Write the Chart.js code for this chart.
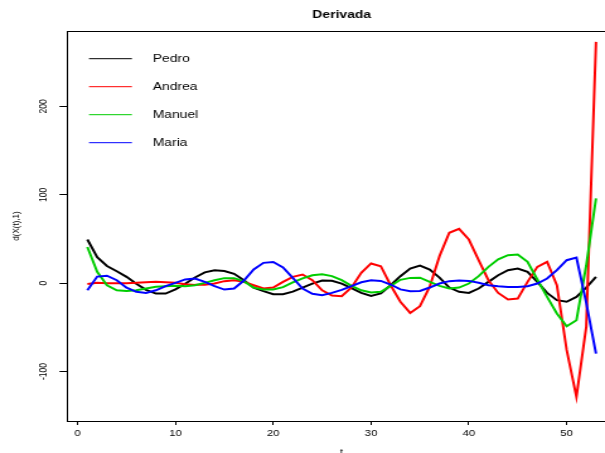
<!DOCTYPE html>
<html><head><meta charset="utf-8">
<script src="https://cdn.jsdelivr.net/npm/chart.js@4/dist/chart.umd.min.js"></script>
<style>
html,body{margin:0;padding:0;background:#fff;overflow:hidden}
#wrap{width:605px;height:453px;overflow:hidden;position:relative;background:#fff}
#c{position:absolute;left:0;top:0;width:489px;height:453px;transform:scaleX(1.2604);transform-origin:0 0}
</style></head><body>
<div id="wrap"><canvas id="c" width="489" height="453"></canvas></div>
<script>
// ---- data ----
const T = [1,2,3,4,5,6,7,8,9,10,11,12,13,14,15,16,17,18,19,20,21,22,23,24,25,26,27,28,29,30,
           31,32,33,34,35,36,37,38,39,40,41,42,43,44,45,46,47,48,49,50,51,52,53];
const PEDRO = [49.4,29.5,19.5,13.5,7.2,-0.7,-7.5,-11.7,-11.7,-7,
               -0.7,6.5,12.3,14.5,13.8,10.6,3.4,-5,-9,-12.5,
               -12.5,-9.5,-5,-0.5,3,2.8,-0.5,-5.5,-11,-14.5,
               -11.5,-2.3,7.9,16.6,20,15.5,6.4,-4.9,-9.8,-11,
               -6,1.5,9,14.7,16.6,12.8,1.5,-11,-19.2,-21,
               -15.5,-4.9,7.2];
const ANDREA = [-1,0.4,0,0,0,0.4,1.1,1.5,1.1,0.4,
                -1.1,-1.9,-1.9,-0.4,2.3,3.4,1.5,-2.3,-6,-4.9,
                1.5,7.2,9.8,3.4,-8,-14,-14.7,-4.9,11.7,22.3,
                19.2,-2.3,-21,-33.6,-26,-4,30.6,57,61.5,49.4,
                26,3.4,-11,-18.5,-17.4,1.5,18.5,24.2,-2.3,-75.5,
                -128.7,-49.4,273];
const MANUEL = [41,12.8,-2.3,-8,-8.7,-8,-6,-4,-3.4,-3,
                -3.4,-2.3,0.4,3.4,5.7,5.7,2,-5,-7,-7.2,
                -4.5,0.8,5.5,9,10.2,8,3.5,-3,-8,-10.5,
                -9.8,-3,3.8,6,6.2,1.5,-3,-6,-5,-0.4,
                8,18.5,27,31.7,32.5,24.2,4.2,-15.5,-34.3,-48.7,
                -42,20,96];
const MARIA = [-8,7.5,8.5,3.4,-5,-9.8,-11,-8,-3.4,0.4,
               4.3,5.3,1.5,-3.4,-7.2,-6,3,15.5,23,24,
               17.8,6,-6,-12,-13.5,-11,-7.5,-3.4,1,3.2,
               2.6,-1.5,-7,-9,-8.7,-4.9,-0.4,2.3,3,2.6,
               0.4,-2.3,-3.4,-4.2,-4.2,-3.4,-0.4,5.3,14.7,26,
               29,-22,-79.6];
const SERIES_NAMES = ['Pedro','Andrea','Manuel','Maria'];
const X_TICKS = [0,10,20,30,40,50];
const Y_TICKS = [-100,0,100,200];

const COLORS = ['#000000','#FF0000','#00CD00','#0000FF'];
const SERIES = [PEDRO, ANDREA, MANUEL, MARIA];
const FONT = "'Liberation Sans', Arial, Helvetica, sans-serif";
Chart.defaults.font.family = FONT;
Chart.defaults.color = '#000';

const datasets = SERIES.map((vals,k)=>({
  label: SERIES_NAMES[k],
  data: vals.map((v,i)=>({x:T[i], y:v})),
  borderColor: COLORS[k], backgroundColor: COLORS[k],
  borderWidth: 2, pointRadius: 0, pointHoverRadius: 0, tension: 0, fill: false,
  order: SERIES.length - k
}));

const boxPlugin = { id:'rbox', afterDatasetsDraw(chart){
  const {ctx, chartArea:a} = chart;
  ctx.save(); ctx.strokeStyle='#000'; ctx.lineWidth=1;
  const l=Math.round(a.left), t=Math.round(a.top), r=Math.round(a.right), b=Math.round(a.bottom);
  ctx.strokeRect(l+0.5, t+0.5, r-l-1, b-t);
  ctx.restore();
}};

const yLabelPlugin = { id:'ylab', afterDraw(chart){
  const s = chart.scales.y, ctx = chart.ctx;
  ctx.save(); ctx.font = "8.5px " + FONT; ctx.fillStyle='#000';
  ctx.textAlign='center'; ctx.textBaseline='middle';
  Y_TICKS.forEach(v=>{
    const y = s.getPixelForValue(v);
    ctx.save(); ctx.translate(s.right - 18.2, y); ctx.rotate(-Math.PI/2);
    ctx.fillText(String(v), 0, 0); ctx.restore();
  });
  ctx.restore();
}};

const legendPlugin = { id:'rlegend', afterDraw(chart){
  const a = chart.chartArea, ctx = chart.ctx;
  ctx.save(); ctx.font = "11px " + FONT; ctx.textBaseline='middle'; ctx.textAlign='left';
  SERIES_NAMES.forEach((n,k)=>{
    const y = a.top + 27.7 + k*28;
    ctx.strokeStyle = COLORS[k]; ctx.lineWidth = 1;
    ctx.beginPath(); ctx.moveTo(a.left+17.4, y); ctx.lineTo(a.left+51.5, y); ctx.stroke();
    ctx.fillStyle = '#000'; ctx.fillText(n, a.left+68, y+0.5);
  });
  ctx.restore();
}};

new Chart(document.getElementById('c'), {
  type:'line',
  data:{datasets},
  options:{
    responsive:false, animation:false, devicePixelRatio:1,
    layout:{padding:0},
    plugins:{
      legend:{display:false}, tooltip:{enabled:false},
      title:{display:true, text:'Derivada', color:'#000', fullSize:false,
             font:{size:11, weight:'bold'}, padding:{top:8,bottom:9.8}}
    },
    scales:{
      x:{type:'linear', position:'bottom', min:-1.08, max:55.08,
         afterBuildTicks(s){ s.ticks = X_TICKS.map(v=>({value:v})); },
         afterFit(s){ s.height = 32; },
         grid:{drawOnChartArea:false, drawTicks:true, tickLength:4, tickColor:'#000', tickWidth:1},
         border:{display:false},
         ticks:{color:'#000', font:{size:9}, padding:3, maxRotation:0, minRotation:0, autoSkip:false},
         title:{display:true, text:'t', color:'#000', font:{size:9}, padding:{top:0,bottom:-5}}},
      y:{type:'linear', position:'left', min:-155.9, max:285.3,
         afterBuildTicks(s){ s.ticks = Y_TICKS.map(v=>({value:v})); },
         afterFit(s){ s.width = 53.2; },
         grid:{drawOnChartArea:false, drawTicks:true, tickLength:6, tickColor:'#000', tickWidth:1},
         border:{display:false},
         ticks:{display:false},
         title:{display:true, text:'d(X(t),1)', color:'#000', font:{size:8}, padding:{top:7.5,bottom:0}}}
    }
  },
  plugins:[boxPlugin, yLabelPlugin, legendPlugin]
});
</script>
</body></html>
